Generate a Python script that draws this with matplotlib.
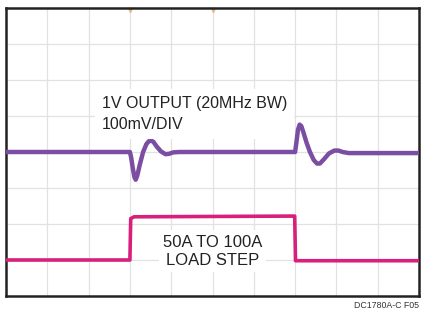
import numpy as np
import matplotlib
matplotlib.use("Agg")
import matplotlib.pyplot as plt

# scope traces, x and y in divisions (10 x 8 grid, 0 = centre line)
vout_t = [0.0, 3.0, 3.03, 3.07, 3.11, 3.14, 3.18, 3.24, 3.32, 3.40, 3.46, 3.51,
          3.57, 3.65, 3.75, 3.86, 3.95, 4.05, 4.2, 7.0, 7.03, 7.07, 7.11, 7.15,
          7.20, 7.28, 7.36, 7.45, 7.53, 7.60, 7.70, 7.82, 7.95, 8.05, 8.15, 8.3, 10.0]
vout_v = [0.0, 0.0, -0.15, -0.45, -0.70, -0.77, -0.65, -0.35, 0.0, 0.22, 0.30, 0.32,
          0.28, 0.15, 0.02, -0.06, -0.05, -0.01, 0.0, 0.0, 0.25, 0.62, 0.76, 0.72,
          0.55, 0.25, 0.0, -0.22, -0.32, -0.32, -0.20, -0.04, 0.04, 0.04, 0.0, -0.03, -0.03]

load_t = [0.0, 3.0, 3.02, 3.1, 6.97, 6.99, 7.01, 10.0]
load_v = [-3.0, -3.0, -1.85, -1.8, -1.78, -1.78, -3.02, -3.02]

trigger_t = [3.0, 5.0]

vout_label = "1V OUTPUT (20MHz BW)\n100mV/DIV"
load_label = "50A TO 100A\nLOAD STEP"
fig_label = "DC1780A-C F05"

font = ["Liberation Sans Narrow", "Liberation Sans", "DejaVu Sans"]

fig = plt.figure(figsize=(4.23, 3.12), dpi=100)
ax = fig.add_axes([6 / 423, 16 / 312, 413 / 423, 288 / 312])
ax.set_xlim(0, 10)
ax.set_ylim(-4, 4)

for gx in range(1, 10):
    ax.axvline(gx, color="#e2e2e2", lw=0.9, zorder=0)
for gy in range(-3, 4):
    ax.axhline(gy, color="#e2e2e2", lw=0.9, zorder=0)

ax.plot(vout_t, vout_v, color="#7b4ea3", lw=3.2, solid_joinstyle="round", zorder=3)
ax.plot(load_t, load_v, color="#d81f7c", lw=2.6, solid_joinstyle="round", zorder=3)
ax.plot(trigger_t, [3.95] * len(trigger_t), "v", color="#e8a060", ms=3,
        alpha=0.6, clip_on=False, zorder=2)

ax.text(2.32, 1.06, vout_label, fontsize=11.5, family=font, color="#222222",
        ha="left", va="center", linespacing=1.55, zorder=4,
        bbox=dict(facecolor="white", edgecolor="none", pad=5))
ax.text(5.0, -2.76, load_label, fontsize=12, family=font, color="#222222",
        ha="center", va="center", linespacing=1.3, zorder=4,
        bbox=dict(facecolor="white", edgecolor="none", pad=3))

ax.set_xticks([])
ax.set_yticks([])
for s in ax.spines.values():
    s.set_linewidth(1.8)
    s.set_color("#222222")

fig.text(419 / 423, 1 - 305 / 312, fig_label, fontsize=6.3, family=font,
         color="#333333", ha="right", va="center")

fig.savefig("out.png", dpi=100)
